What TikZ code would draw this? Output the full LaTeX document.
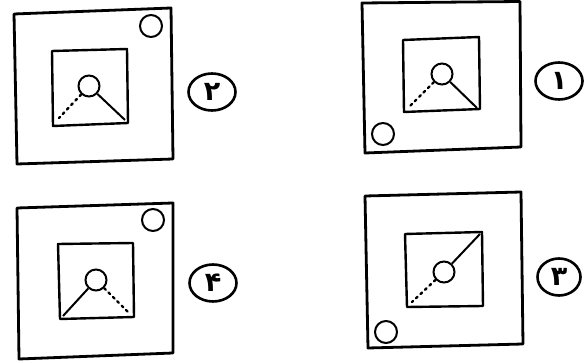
\documentclass[tikz,border=0pt]{standalone}
\usepackage{fontspec}
\newfontfamily\arabicfont[Script=Arabic]{DejaVu Sans}
\usetikzlibrary{shapes.geometric}
\tikzset{
  outerbox/.style={line width=2.8pt, line join=round},
  innerbox/.style={line width=2.4pt, line join=round},
  ring/.style={circle, draw, line width=2pt, minimum size=22pt, inner sep=0pt},
  smallring/.style={circle, draw, line width=2pt, minimum size=21pt, inner sep=0pt},
  solidarm/.style={line width=2pt},
  dotarm/.style={line width=2.4pt, dash pattern=on 2.2pt off 4pt, line cap=round},
  numlabel/.style={ellipse, draw, line width=2.6pt, minimum width=47pt, minimum height=37pt, inner sep=0pt, font=\arabicfont\bfseries\fontsize{27}{27}\selectfont}
}
\begin{document}
\begin{tikzpicture}[x=1pt,y=-1pt]
\useasboundingbox (0,0) rectangle (584,363);
% ---------- panel 2 (top-left)
\draw[outerbox] (14,14) -- (171,8) -- (173,159) -- (17,164) -- cycle;
\node[ring] (k2) at (151,26) {};
\coordinate (a2) at (52,51); \coordinate (b2) at (127,49);
\coordinate (c2) at (128,123); \coordinate (d2) at (53,126);
\draw[innerbox] (a2) -- (b2) -- (c2) -- (d2) -- cycle;
\node[smallring] (s2) at (89,86) {};
\draw[solidarm] (s2) -- (125,120);
\draw[dotarm] (s2) -- (59,118);
\node[numlabel] (n2) at (212,92) {۲};
% ---------- panel 1 (top-right)
\draw[outerbox] (362,3) -- (520,1.5) -- (521,147) -- (365,153) -- cycle;
\node[ring] (k1) at (383,134) {};
\coordinate (a1) at (403,40); \coordinate (b1) at (479,37);
\coordinate (c1) at (480,109); \coordinate (d1) at (404,112);
\draw[innerbox] (a1) -- (b1) -- (c1) -- (d1) -- cycle;
\node[smallring] (s1) at (442,74) {};
\draw[solidarm] (s1) -- (477,108);
\draw[dotarm] (s1) -- (409,107);
\node[numlabel] (n1) at (559,81) {۱};
% ---------- panel 4 (bottom-left)
\draw[outerbox] (17,208) -- (173,203) -- (173,353) -- (19,359) -- cycle;
\node[ring] (k4) at (153,220) {};
\coordinate (a4) at (58,244); \coordinate (b4) at (133,243);
\coordinate (c4) at (134,317); \coordinate (d4) at (60,319);
\draw[innerbox] (a4) -- (b4) -- (c4) -- (d4) -- cycle;
\node[smallring] (s4) at (96,280) {};
\draw[solidarm] (s4) -- (63,316);
\draw[dotarm] (s4) -- (128,312);
\node[numlabel] (n4) at (213,283) {۴};
% ---------- panel 3 (bottom-right)
\draw[outerbox] (365,196) -- (521,192) -- (523,344) -- (368,348) -- cycle;
\node[ring] (k3) at (386,332) {};
\coordinate (a3) at (405,234); \coordinate (b3) at (482,232);
\coordinate (c3) at (483,306); \coordinate (d3) at (407,307);
\draw[innerbox] (a3) -- (b3) -- (c3) -- (d3) -- cycle;
\node[smallring] (s3) at (444,272) {};
\draw[solidarm] (s3) -- (480,234);
\draw[dotarm] (s3) -- (412,302);
\node[numlabel, minimum width=43pt] (n3) at (559,277) {۳};
\end{tikzpicture}
\end{document}
